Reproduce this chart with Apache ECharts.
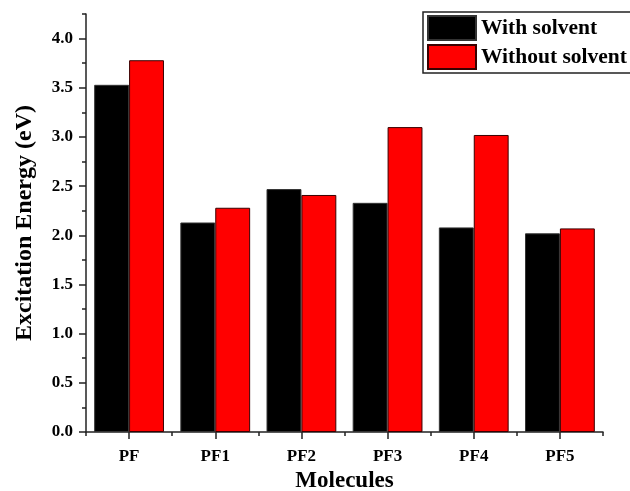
<!DOCTYPE html>
<html>
<head>
<meta charset="utf-8">
<style>
html,body{margin:0;padding:0;background:#fff;}
#chart{width:630px;height:491px;}
</style>
<script src="https://cdn.jsdelivr.net/npm/echarts@6/dist/echarts.min.js"></script>
</head>
<body>
<div id="chart"></div>
<script>
const categories = ['PF', 'PF1', 'PF2', 'PF3', 'PF4', 'PF5'];
const withSolvent = [3.53, 2.13, 2.47, 2.33, 2.08, 2.02];
const withoutSolvent = [3.78, 2.28, 2.41, 3.10, 3.02, 2.07];
const seriesNames = ['With solvent', 'Without solvent'];
const yMajorTicks = [0, 0.5, 1.0, 1.5, 2.0, 2.5, 3.0, 3.5, 4.0];
const yMinorTicks = [0.25, 0.75, 1.25, 1.75, 2.25, 2.75, 3.25, 3.75, 4.25];
const xTitle = 'Molecules';
const yTitle = 'Excitation Energy (eV)';

const FONT = 'Liberation Serif';
const chart = echarts.init(document.getElementById('chart'), null, {renderer: 'canvas'});
const axisLine = {show: true, lineStyle: {color: '#222', width: 1.5}};
chart.setOption({
  animation: false,
  backgroundColor: '#fff',
  grid: {left: 86, right: 27, top: 14, bottom: 59, containLabel: false, outerBoundsMode: 'none'},
  legend: {
    data: seriesNames,
    orient: 'vertical',
    left: 423, top: 12,
    icon: 'rect',
    itemWidth: 48, itemHeight: 24, itemGap: 3,
    padding: [3, 8, 3, 4],
    borderColor: '#222', borderWidth: 1.5,
    backgroundColor: '#fff',
    textStyle: {fontFamily: FONT, fontWeight: 'bold', fontSize: 21.5, color: '#000'}
  },
  xAxis: [{
    type: 'category', data: categories,
    axisLine: axisLine,
    axisTick: {show: true, alignWithLabel: true, length: 7, lineStyle: {color: '#222', width: 1.5}},
    axisLabel: {fontFamily: FONT, fontWeight: 'bold', fontSize: 17, color: '#000', margin: 16},
    name: xTitle, nameLocation: 'middle', nameGap: 37,
    nameTextStyle: {fontFamily: FONT, fontWeight: 'bold', fontSize: 23, color: '#000'},
    splitLine: {show: false}
  }, {
    type: 'category', data: categories, position: 'bottom',
    axisLine: {show: false},
    axisTick: {show: true, alignWithLabel: false, length: 4, lineStyle: {color: '#222', width: 1.5}},
    axisLabel: {show: false},
    splitLine: {show: false}
  }],
  yAxis: [{
    type: 'value', min: 0, max: 4.25, interval: 0.25,
    axisLine: axisLine,
    axisTick: {show: true, length: 7, customValues: yMajorTicks, lineStyle: {color: '#222', width: 1.5}},
    axisLabel: {fontFamily: FONT, fontWeight: 'bold', fontSize: 17, color: '#000', margin: 13,
      customValues: yMajorTicks, formatter: v => v.toFixed(1)},
    name: yTitle, nameLocation: 'middle', nameGap: 49,
    nameTextStyle: {fontFamily: FONT, fontWeight: 'bold', fontSize: 24, color: '#000'},
    splitLine: {show: false}
  }, {
    type: 'value', min: 0, max: 4.25, interval: 0.25, position: 'left',
    axisLine: {show: false},
    axisTick: {show: true, length: 4, customValues: yMinorTicks, lineStyle: {color: '#222', width: 1.5}},
    axisLabel: {show: false},
    splitLine: {show: false}
  }],
  series: [{
    name: seriesNames[0], type: 'bar', data: withSolvent,
    xAxisIndex: 0, yAxisIndex: 0,
    barWidth: '40.5%', barGap: '0%',
    itemStyle: {color: '#000', borderColor: '#333', borderWidth: 1}
  }, {
    name: seriesNames[1], type: 'bar', data: withoutSolvent,
    xAxisIndex: 0, yAxisIndex: 0,
    barWidth: '40.5%', barGap: '0%',
    itemStyle: {color: '#ff0000', borderColor: '#3a0000', borderWidth: 1}
  }]
});
</script>
</body>
</html>
